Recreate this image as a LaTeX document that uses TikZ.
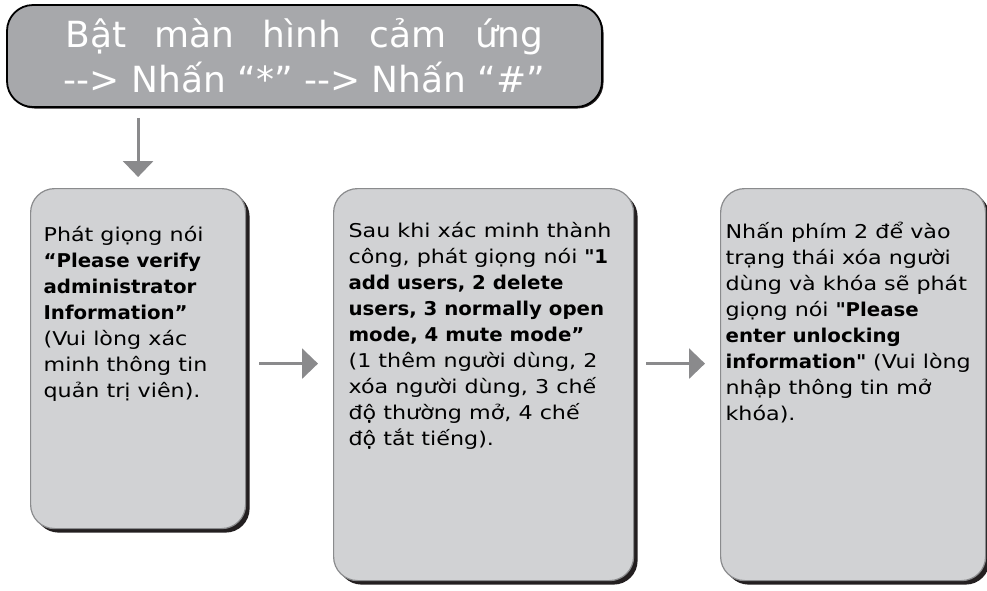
\documentclass[tikz,border=0pt]{standalone}
\usepackage{fontspec}
\setmainfont{DejaVu Sans}[FakeStretch=1.17, BoldFeatures={FakeStretch=1.04}]
\newfontfamily\headfont{DejaVu Sans}
\usetikzlibrary{arrows.meta,shadows}
\definecolor{headgray}{HTML}{A7A8AB}
\definecolor{panelgray}{HTML}{D1D2D4}
\definecolor{rimgray}{HTML}{8A8B8D}
\definecolor{arrowgray}{HTML}{8A8A8C}
\definecolor{shadowblack}{HTML}{231F20}
\newcommand\paneltext[3]{\parbox[c][#1][t]{#2}{\raggedright #3}}

\begin{document}
\begin{tikzpicture}[x=1pt, y=1pt,
  header/.style={draw=black, line width=1.8pt, fill=headgray, rounded corners=26pt,
    minimum width=595pt, minimum height=102pt, text=white, align=center,
    font=\headfont\fontsize{36}{45}\selectfont,
    drop shadow={shadow xshift=1.5pt, shadow yshift=-1.5pt, fill=shadowblack, opacity=1}},
  panel/.style={draw=rimgray, line width=1.2pt, fill=panelgray, rounded corners=24pt,
    anchor=north west, inner xsep=#1, inner ysep=34pt,
    font=\fontsize{19}{26}\selectfont,
    drop shadow={shadow xshift=4pt, shadow yshift=-4pt, fill=shadowblack, opacity=1}},
  flow/.style={draw=arrowgray, line width=3pt, -{Triangle[width=30pt,length=16pt]}}]
  \useasboundingbox (0,0) rectangle (987,-590);

  \node[header] (top) at (304.5,-56)
    {\makebox[478pt][s]{Bật màn hình cảm ứng}\\ -{}-> Nhấn “*” -{}-> Nhấn “\#”};

  \node[panel=13pt, inner ysep=38pt] (box1) at (30,-188) {\paneltext{264pt}{189pt}{%
    Phát giọng nói\\
    {\bfseries “Please verify\\ administrator\\ Information”}\\
    (Vui lòng xác\\ minh thông tin\\ quản trị viên).}};
  \node[panel=15pt] (box2) at (333,-188) {\paneltext{324pt}{270pt}{%
    Sau khi xác minh thành\\
    công, phát giọng nói {\bfseries \textquotedbl 1\\ add users, 2 delete\\ users, 3 normally open\\ mode, 4 mute mode”}\\
    (1 thêm người dùng, 2\\ xóa người dùng, 3 chế\\ độ thường mở, 4 chế\\ độ tắt tiếng).}};
  \node[panel=5pt] (box3) at (720,-188) {\paneltext{324pt}{255pt}{%
    Nhấn phím 2 để vào\\ trạng thái xóa người\\ dùng và khóa sẽ phát\\
    giọng nói {\bfseries \textquotedbl Please\\ enter unlocking\\ information\textquotedbl} (Vui lòng\\
    nhập thông tin mở\\ khóa).}};

  \draw[flow, shorten <=10pt, shorten >=11pt] (top.south -| box1.north) -- (box1.north);
  \draw[flow, shorten <=13pt, shorten >=15pt] ([yshift=-5pt]box1.east) -- ([yshift=-5pt]box1.east -| box2.west);
  \draw[flow, shorten <=12pt, shorten >=15pt] ([yshift=21pt]box2.east) -- ([yshift=21pt]box2.east -| box3.west);
\end{tikzpicture}
\end{document}
